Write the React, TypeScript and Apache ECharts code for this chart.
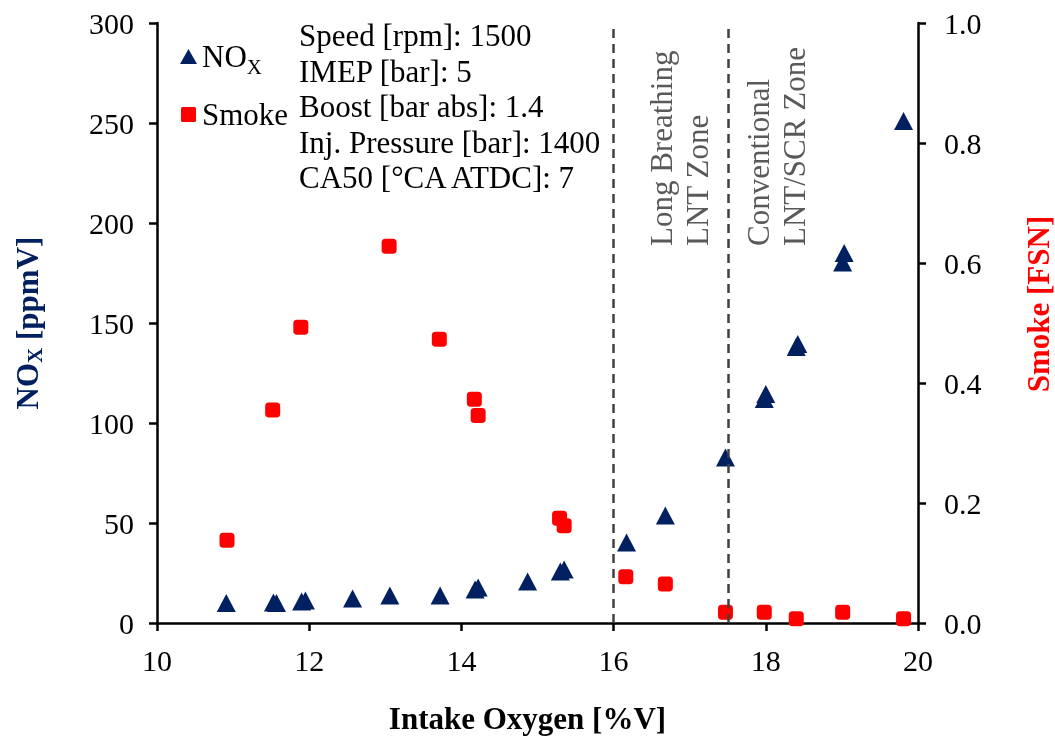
import { useEffect, useRef } from 'react';
import * as echarts from 'echarts';

const noxO2 = [10.91, 11.53, 11.57, 11.9, 11.95, 12.57, 13.06, 13.72, 14.18, 14.22, 14.87, 15.3, 15.35, 16.17, 16.68, 17.47, 17.98, 18.0, 18.4, 18.42, 19.01, 19.03, 19.81];
const noxPpm = [10, 10.3, 10, 10.8, 11.3, 12.3, 13.7, 13.7, 16.7, 17.7, 20.7, 25.7, 26.7, 40.3, 53.7, 82.8, 112, 114.5, 138, 139.5, 180.3, 185, 251];
const smokeO2 = [10.92, 11.52, 11.89, 13.05, 13.71, 14.17, 14.22, 15.29, 15.35, 16.16, 16.68, 17.47, 17.98, 18.4, 19.01, 19.81];
const smokeFsn = [0.138, 0.355, 0.493, 0.628, 0.473, 0.373, 0.346, 0.1745, 0.162, 0.077, 0.065, 0.018, 0.018, 0.007, 0.018, 0.007];
const zoneBounds = [16, 17.5];
const conditions = ['Speed [rpm]: 1500', 'IMEP [bar]: 5', 'Boost [bar abs]: 1.4', 'Inj. Pressure [bar]: 1400', 'CA50 [°CA ATDC]: 7'];
const zoneLabels = [
  ['Long Breathing', 'LNT Zone'],
  ['Conventional', 'LNT/SCR Zone'],
];

const FONT = '"Liberation Serif", "Times New Roman", serif';
const NAVY = '#002060';
const RED = '#FF0000';

export default function App() {
  const ref = useRef<HTMLDivElement>(null);
  useEffect(() => {
    if (!ref.current) return;
    const chart = echarts.init(ref.current, undefined, { renderer: 'svg', width: 1055, height: 739 });
    const axisLine = { show: true, lineStyle: { color: '#000', width: 2.5 } };
    const axisTick = { show: true, inside: false, length: 8, lineStyle: { color: '#000', width: 2.5 } };
    const zoneTexts: any[] = [];
    const zoneX = [[661, 697], [758, 794]];
    zoneLabels.forEach((lines, i) => {
      lines.forEach((t, j) => {
        zoneTexts.push({
          type: 'text',
          x: zoneX[i][j],
          y: 246,
          rotation: Math.PI / 2,
          style: { text: t, fill: '#595959', font: `31px ${FONT}`, align: 'left', verticalAlign: 'middle' },
        });
      });
    });
    chart.setOption({
      animation: false,
      grid: { left: 157, top: 23, width: 761, height: 600 },
      legend: {
        orient: 'vertical',
        left: 175,
        top: 36,
        itemGap: 22,
        itemWidth: 17,
        itemHeight: 15,
        data: [
          { name: 'NOx', icon: 'triangle' },
          { name: 'Smoke', icon: 'path://M1,0h8a1,1 0 0 1 1,1v8a1,1 0 0 1 -1,1h-8a1,1 0 0 1 -1,-1v-8a1,1 0 0 1 1,-1z' },
        ],
        symbolKeepAspect: true,
        formatter: (n: string) => (n === 'NOx' ? '{a|NO}{b|X}' : '{a|Smoke}'),
        textStyle: {
          fontFamily: FONT,
          fontSize: 31,
          color: '#000',
          rich: {
            a: { fontFamily: FONT, fontSize: 31, color: '#000' },
            b: { fontFamily: FONT, fontSize: 21, color: '#000', verticalAlign: 'bottom', padding: [20, 0, 0, 0] },
          },
        },
      },
      xAxis: {
        type: 'value',
        min: 10,
        max: 20,
        interval: 2,
        name: 'Intake Oxygen [%V]',
        nameLocation: 'middle',
        nameGap: 80,
        nameTextStyle: { fontFamily: FONT, fontSize: 31, fontWeight: 'bold', color: '#000', padding: [0, 20, 0, 0] },
        axisLine,
        axisTick,
        splitLine: { show: false },
        axisLabel: { fontFamily: FONT, fontSize: 30, color: '#000', margin: 22 },
      },
      yAxis: [
        {
          type: 'value',
          min: 0,
          max: 300,
          interval: 50,
          name: '{a|NO}{b|X}{a| [ppmV]}',
          nameLocation: 'middle',
          nameRotate: 90,
          nameGap: 112,
          nameTextStyle: {
            fontFamily: FONT,
            fontSize: 31,
            fontWeight: 'bold',
            color: NAVY,
            rich: {
              a: { fontFamily: FONT, fontSize: 31, fontWeight: 'bold', color: NAVY },
              b: { fontFamily: FONT, fontSize: 21, fontWeight: 'bold', color: NAVY, verticalAlign: 'bottom', padding: [14, 0, 0, 0] },
            },
          },
          axisLine,
          axisTick,
          splitLine: { show: false },
          axisLabel: { fontFamily: FONT, fontSize: 30, color: '#000', margin: 23 },
        },
        {
          type: 'value',
          min: 0,
          max: 1,
          interval: 0.2,
          position: 'right',
          axisLine,
          axisTick,
          splitLine: { show: false },
          axisLabel: { fontFamily: FONT, fontSize: 30, color: '#000', margin: 26, formatter: (v: number) => v.toFixed(1) },
        },
      ],
      series: [
        {
          name: 'NOx',
          type: 'scatter',
          yAxisIndex: 0,
          symbol: 'triangle',
          symbolSize: [19, 18],
          itemStyle: { color: NAVY, opacity: 1 },
          data: noxO2.map((x, i) => [x, noxPpm[i]]),
          z: 3,
          markLine: {
            silent: true,
            symbol: 'none',
            label: { show: false },
            lineStyle: { color: '#404040', type: [9, 6], width: 2.5, opacity: 1 },
            data: zoneBounds.map((x) => ({ xAxis: x })),
          },
        },
        {
          name: 'Smoke',
          type: 'scatter',
          yAxisIndex: 1,
          symbol: 'roundRect',
          symbolSize: 15,
          itemStyle: { color: RED, opacity: 1 },
          data: smokeO2.map((x, i) => [x, smokeFsn[i]]),
          z: 2,
        },
      ],
      graphic: [
        {
          type: 'text',
          left: 299,
          top: 18,
          style: { text: conditions.join('\n'), fill: '#000', font: `31px ${FONT}`, lineHeight: 35.5 },
        },
        {
          type: 'text',
          x: 1038,
          y: 304,
          rotation: Math.PI / 2,
          style: { text: 'Smoke [FSN]', fill: RED, font: `bold 31px ${FONT}`, align: 'center', verticalAlign: 'middle' },
        },
        ...zoneTexts,
      ],
    });
    return () => chart.dispose();
  }, []);
  return <div ref={ref} style={{ position: 'fixed', left: 0, top: 0, width: 1055, height: 739 }} />;
}
